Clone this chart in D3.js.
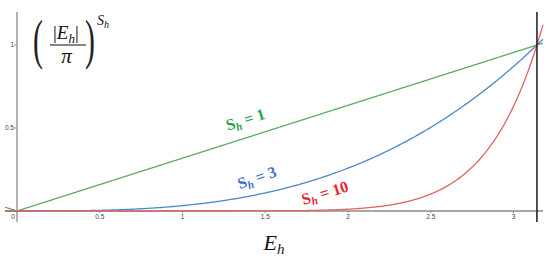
<!DOCTYPE html>
<html>
<head>
<meta charset="utf-8">
<script src="https://cdn.jsdelivr.net/npm/d3@7"></script>
<style>
  body { margin: 0; background: #fff; }
  .tick-label { font-family: "Liberation Sans", sans-serif; font-size: 6.5px; fill: #444; }
  .math { font-family: "Liberation Serif", serif; font-style: italic; fill: #111; }
  .curve-label { font-family: "Liberation Serif", serif; font-weight: bold; font-size: 16px; }
</style>
</head>
<body>
<div class="chart"></div>
<script>
// Chart data
var exponents = [1, 3, 10];
var xTicks = [0, 0.5, 1, 1.5, 2, 2.5, 3];
var xTickLabels = ["0", "0.5", "1", "1.5", "2", "2.5", "3"];
var yTicks = [0.5, 1];
var yTickLabels = ["0.5", "1"];
var xDomain = [-0.073, 3.178];
// where each "S_h = n" label sits, in data units, and its value text
var labelX = [1.39, 1.46, 1.87];
var labelY = [0.52, 0.17, 0.078];
var labelText = ["1", "3", "10"];

var svgWidth = 550;
var svgHeight = 259;

var lineColors = ["#5dab5f", "#4a88cc", "#e06464"];
var labelColors = ["#1ea14c", "#3b6fc6", "#e5262c"];
var labelAngles = [-17.5, -19, -17];

var svg = d3.select(".chart")
  .append("svg")
  .attr("width", svgWidth)
  .attr("height", svgHeight);

// Step 1: scales (same units on both axes)
var xScale = d3.scaleLinear().domain([0, 1]).range([17, 182.5]);
var yScale = d3.scaleLinear().domain([0, 1]).range([211, 45]);

// Step 2: axes
svg.append("line")
  .attr("x1", xScale(xDomain[0]) + 1).attr("x2", xScale(xDomain[1]))
  .attr("y1", yScale(0)).attr("y2", yScale(0))
  .attr("stroke", "#8a8a8a").attr("stroke-width", 1.6);

svg.append("line")
  .attr("x1", xScale(0)).attr("x2", xScale(0))
  .attr("y1", 12).attr("y2", 222)
  .attr("stroke", "#8a8a8a").attr("stroke-width", 1.3);

svg.selectAll(".xtick")
  .data(xTicks.slice(1))
  .enter()
  .append("line")
  .attr("x1", d => xScale(d)).attr("x2", d => xScale(d))
  .attr("y1", yScale(0)).attr("y2", yScale(0) + 2)
  .attr("stroke", "#8a8a8a");

svg.selectAll(".xlabel")
  .data(xTicks)
  .enter()
  .append("text")
  .attr("class", "tick-label")
  .attr("x", (d, i) => i == 0 ? xScale(d) - 4 : xScale(d))
  .attr("y", yScale(0) + 8)
  .attr("text-anchor", "middle")
  .text((d, i) => xTickLabels[i]);

svg.selectAll(".ytick")
  .data(yTicks)
  .enter()
  .append("line")
  .attr("x1", xScale(0) - 3).attr("x2", xScale(0))
  .attr("y1", d => yScale(d)).attr("y2", d => yScale(d))
  .attr("stroke", "#8a8a8a");

svg.selectAll(".ylabel")
  .data(yTicks)
  .enter()
  .append("text")
  .attr("class", "tick-label")
  .attr("x", xScale(0) - 3)
  .attr("y", d => yScale(d) + 2.3)
  .attr("text-anchor", "end")
  .text((d, i) => yTickLabels[i]);

// Step 3: the curves (|E|/pi)^S
var samples = d3.range(0, 401).map(i => xDomain[0] + (xDomain[1] - xDomain[0]) * i / 400);
samples.push(0);
samples.sort(d3.ascending);

var line = d3.line()
  .x(d => xScale(d[0]))
  .y(d => yScale(d[1]));

exponents.forEach(function(s, i) {
  var pts = samples.map(x => [x, Math.pow(Math.abs(x) / Math.PI, s)]);
  svg.append("path")
    .attr("d", line(pts))
    .attr("fill", "none")
    .attr("stroke", lineColors[i])
    .attr("stroke-width", 1.3);
});

// vertical line at E = pi
svg.append("line")
  .attr("x1", xScale(Math.PI)).attr("x2", xScale(Math.PI))
  .attr("y1", 12).attr("y2", 222)
  .attr("stroke", "#1a1a1a").attr("stroke-width", 1.5);

// Step 4: curve labels
exponents.forEach(function(s, i) {
  var t = svg.append("text")
    .attr("class", "curve-label")
    .attr("fill", labelColors[i])
    .attr("text-anchor", "middle")
    .attr("transform", `translate(${xScale(labelX[i])}, ${yScale(labelY[i])}) rotate(${labelAngles[i]})`);
  t.append("tspan").text("S");
  t.append("tspan").attr("font-size", "11px").attr("font-style", "italic").attr("dy", 3).text("h");
  t.append("tspan").attr("dy", -3).text(" = " + labelText[i]);
});

// Step 5: formula in the corner and axis title
var f = svg.append("g").attr("class", "math");

f.append("text")
  .attr("transform", "translate(33, 58) scale(0.55, 1)")
  .attr("font-style", "normal")
  .attr("font-size", 54)
  .attr("fill", "#222")
  .text("(");
f.append("text")
  .attr("transform", "translate(85, 58) scale(0.55, 1)")
  .attr("font-style", "normal")
  .attr("font-size", 54)
  .attr("fill", "#222")
  .text(")");

var num = f.append("text").attr("x", 53).attr("y", 39).attr("font-size", 19);
num.append("tspan").attr("font-style", "normal").text("|");
num.append("tspan").text("E");
num.append("tspan").attr("font-size", 13).attr("dy", 4).text("h");
num.append("tspan").attr("font-style", "normal").attr("dy", -4).text("|");

f.append("line")
  .attr("x1", 50).attr("x2", 86)
  .attr("y1", 45).attr("y2", 45)
  .attr("stroke", "#111").attr("stroke-width", 1.2);

f.append("text").attr("x", 66.5).attr("y", 63).attr("font-size", 21)
  .attr("text-anchor", "middle").text("π");

var sup = f.append("text").attr("x", 97).attr("y", 25).attr("font-size", 14);
sup.append("tspan").text("S");
sup.append("tspan").attr("font-size", 10).attr("dy", 3).text("h");

var title = svg.append("text")
  .attr("class", "math")
  .attr("x", 274).attr("y", 250)
  .attr("text-anchor", "middle")
  .attr("font-size", 22);
title.append("tspan").text("E");
title.append("tspan").attr("font-size", 15).attr("dy", 4).text("h");
</script>
</body>
</html>
